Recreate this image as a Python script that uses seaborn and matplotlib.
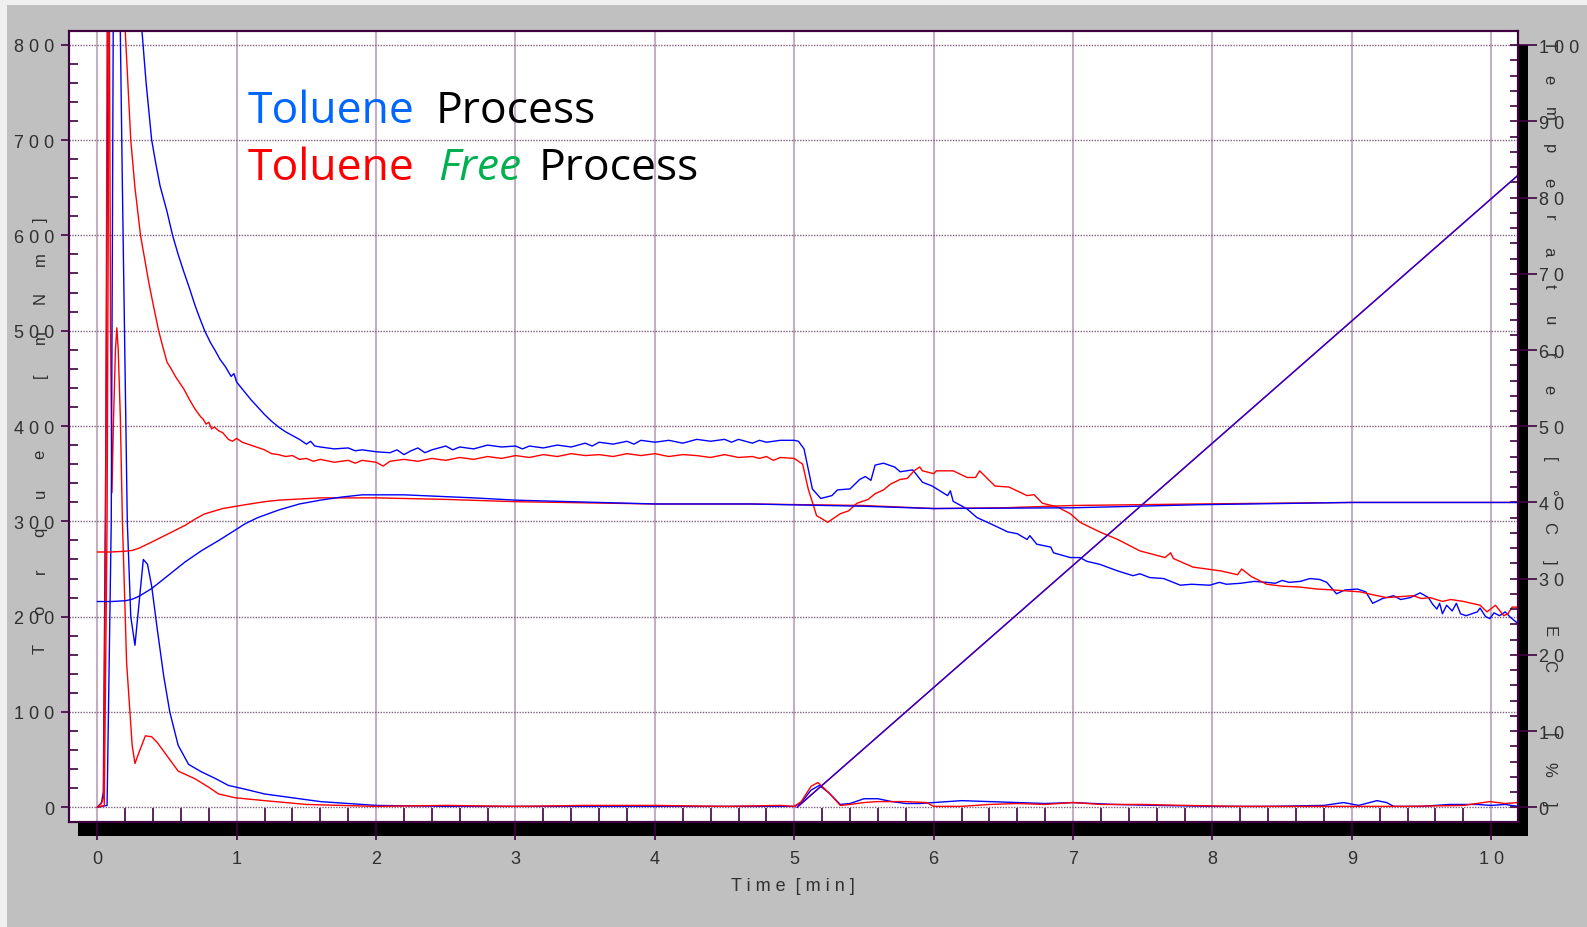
import matplotlib
matplotlib.use("Agg")
import matplotlib.pyplot as plt
import seaborn as sns
import pandas as pd
from matplotlib.patches import Rectangle
from matplotlib.ticker import MultipleLocator, FuncFormatter

# ---- data ----
# lower torque curve, toluene process (blue)
blue_torque_t = [0, 0.03, 0.043, 0.062, 0.08, 0.1, 0.13, 0.165, 0.18, 0.2,
                 0.215, 0.24, 0.27, 0.3, 0.33, 0.36, 0.39, 0.43, 0.476, 0.52,
                 0.58, 0.655, 0.75, 0.85, 0.94, 1.06, 1.2, 1.4, 1.6, 1.8,
                 2.0, 2.5, 3.0, 3.5, 4.0, 4.5, 5.0, 5.05, 5.12, 5.18,
                 5.25, 5.33, 5.4, 5.5, 5.6, 5.7, 5.8, 5.9, 6.0, 6.2,
                 6.4, 6.6, 6.8, 7.0, 7.3, 7.6, 8.0, 8.4, 8.8, 8.94,
                 9.05, 9.18, 9.25, 9.3, 9.5, 9.7, 9.9, 10.0, 10.1, 10.19]
blue_torque = [0, 5, 16, 400, 900, 1000, 950, 814, 650, 450,
               300, 200, 170, 215, 260, 255, 232, 187, 138, 100,
               65, 45, 37, 30, 23, 19, 14, 10, 6, 4,
               2, 1, 1, 1, 1, 1, 1, 5, 18, 23,
               15, 3, 4, 9, 9, 6, 4, 4, 5, 7,
               6, 5, 4, 5, 3, 2, 1, 1, 2, 5,
               2, 7, 5, 1, 1, 3, 3, 2, 3, 1]

# lower torque curve, toluene free process (red)
red_torque_t = [0, 0.03, 0.045, 0.06, 0.072, 0.085, 0.095, 0.105, 0.115, 0.13,
                0.14, 0.15, 0.165, 0.18, 0.21, 0.25, 0.27, 0.3, 0.345, 0.39,
                0.43, 0.49, 0.58, 0.7, 0.8, 0.87, 0.99, 1.06, 1.2, 1.5,
                2.0, 2.5, 3.0, 3.5, 4.0, 4.5, 4.9, 5.0, 5.05, 5.12,
                5.17, 5.25, 5.33, 5.4, 5.5, 5.6, 5.8, 5.95, 6.0, 6.2,
                6.4, 6.6, 6.8, 7.0, 7.2, 7.5, 7.8, 8.2, 8.6, 9.0,
                9.4, 9.8, 9.99, 10.1, 10.19]
red_torque = [0, 4, 10, 300, 900, 900, 500, 330, 400, 480,
              503, 480, 410, 300, 152, 65, 46, 58, 75, 74,
              68, 56, 38, 30, 21, 14, 10, 9, 7, 3,
              1, 2, 1, 2, 2, 1, 2, 1, 6, 22,
              26, 15, 2, 3, 5, 6, 6, 5, 1, 1,
              3, 4, 3, 5, 3, 3, 2, 1, 1, 1,
              1, 2, 6, 4, 5]

# upper curve, toluene process (blue)
blue_upper_t = [0, 0.07, 0.1, 0.115, 0.15, 0.25, 0.32, 0.35, 0.39, 0.42,
                0.45, 0.5, 0.54, 0.58, 0.62, 0.66, 0.7, 0.73, 0.77, 0.81,
                0.85, 0.88, 0.92, 0.96, 0.98, 1.0, 1.05,
                1.1, 1.15, 1.2, 1.25, 1.3, 1.35, 1.4, 1.45, 1.5, 1.53,
                1.56, 1.6, 1.7, 1.8, 1.85, 1.9, 2.0, 2.1, 2.15, 2.2,
                2.25, 2.3, 2.35, 2.4, 2.5, 2.55, 2.6, 2.7, 2.8, 2.9,
                3.0, 3.05, 3.1, 3.2, 3.3, 3.4, 3.5, 3.55, 3.6, 3.7,
                3.8, 3.85, 3.9, 4.0, 4.1, 4.2, 4.3, 4.4, 4.5, 4.55,
                4.6, 4.7, 4.75, 4.8, 4.9, 5.0, 5.03, 5.07, 5.13, 5.19,
                5.27, 5.31, 5.4, 5.47, 5.51, 5.55, 5.58, 5.64, 5.72, 5.76,
                5.85, 5.92, 5.99, 6.1, 6.12, 6.14, 6.24, 6.31, 6.43, 6.53,
                6.6, 6.67, 6.69, 6.74, 6.84, 6.86, 6.98, 7.05, 7.1, 7.19,
                7.32, 7.43, 7.48, 7.55, 7.65, 7.77, 7.85, 7.98, 8.05, 8.1,
                8.2, 8.3, 8.39, 8.45, 8.5, 8.55, 8.63, 8.7, 8.77, 8.82,
                8.89, 8.95, 9.04, 9.1, 9.15, 9.22, 9.3, 9.35, 9.42, 9.49,
                9.55, 9.58, 9.61, 9.63, 9.65, 9.68, 9.72, 9.75, 9.78, 9.82,
                9.9, 9.92, 9.96, 9.99, 10.02, 10.06, 10.1, 10.14, 10.19]
blue_upper = [0, 2, 300, 850, 950, 950, 815, 760, 700, 675,
              652, 625, 600, 580, 562, 545, 527, 515, 500, 488,
              478, 470, 462, 452, 455, 446, 437,
              428, 420, 412, 405, 399, 394, 390, 386, 381, 384,
              379, 378, 376, 377, 374, 375, 373, 372, 375, 370,
              374, 377, 372, 375, 379, 375, 378, 376, 380, 378,
              379, 376, 379, 377, 380, 378, 382, 379, 383, 381,
              384, 381, 385, 383, 385, 382, 386, 384, 386, 383,
              386, 382, 385, 383, 385, 385, 384, 376, 334, 324,
              327, 333, 334, 344, 347, 343, 359, 361, 357, 352,
              354, 341, 337, 327, 332, 321, 313, 304, 296, 289,
              287, 281, 285, 276, 273, 267, 262, 262, 258, 255,
              248, 243, 245, 241, 240, 233, 234, 233, 236, 234,
              235, 237, 236, 235, 238, 236, 237, 240, 239, 236,
              224, 228, 229, 226, 214, 219, 222, 218, 220, 225,
              220, 213, 208, 214, 203, 212, 206, 214, 203, 201,
              205, 209, 200, 198, 204, 201, 205, 199, 193]

# upper curve, toluene free process (red)
red_upper_t = [0, 0.05, 0.07, 0.085, 0.12, 0.18, 0.2, 0.24, 0.27, 0.31,
               0.34, 0.37, 0.4, 0.44, 0.47, 0.5, 0.53, 0.56, 0.62, 0.66,
               0.7, 0.74, 0.76, 0.78, 0.8,
               0.82, 0.84, 0.87, 0.9, 0.94, 0.97, 1.0, 1.04, 1.08, 1.12,
               1.2, 1.25, 1.3, 1.35, 1.4, 1.45, 1.5, 1.55, 1.6, 1.7,
               1.8, 1.85, 1.9, 2.0, 2.05, 2.1, 2.2, 2.3, 2.4, 2.5,
               2.6, 2.7, 2.8, 2.9, 3.0, 3.1, 3.2, 3.3, 3.4, 3.5,
               3.6, 3.7, 3.8, 3.9, 4.0, 4.1, 4.2, 4.3, 4.4, 4.5,
               4.6, 4.7, 4.75, 4.8, 4.85, 4.9, 5.0, 5.02, 5.06, 5.1,
               5.16, 5.24, 5.33, 5.39, 5.45, 5.53, 5.58, 5.64, 5.69, 5.76,
               5.81, 5.86, 5.9, 5.92, 6.0, 6.02, 6.14, 6.24, 6.3, 6.33,
               6.44, 6.54, 6.67, 6.72, 6.78, 6.89, 6.98, 7.05, 7.19, 7.32,
               7.48, 7.66, 7.7, 7.72, 7.86, 8.06, 8.18, 8.21, 8.28, 8.39,
               8.5, 8.63, 8.75, 8.87, 9.06, 9.15, 9.25, 9.35, 9.44, 9.5,
               9.56, 9.65, 9.71, 9.8, 9.92, 9.97, 10.03, 10.09, 10.12, 10.15,
               10.19]
red_upper = [0, 2, 300, 850, 1000, 900, 815, 700, 650, 600,
             575, 550, 528, 500, 483, 467, 460, 452, 439, 428,
             418, 410, 407, 402, 404,
             397, 399, 395, 393, 386, 384, 387, 383, 381, 379,
             375, 371, 370, 368, 369, 365, 366, 363, 365, 362,
             364, 361, 364, 362, 358, 363, 365, 363, 366, 364,
             367, 365, 368, 366, 369, 367, 370, 368, 371, 369,
             370, 368, 371, 369, 371, 368, 370, 369, 367, 370,
             367, 368, 366, 368, 364, 367, 366, 364, 360, 334,
             306, 299, 308, 311, 319, 323, 329, 333, 339, 344,
             345, 353, 357, 353, 350, 353, 353, 346, 346, 353,
             337, 336, 327, 328, 319, 315, 308, 299, 289, 281,
             269, 262, 267, 261, 252, 248, 244, 250, 242, 234,
             232, 231, 229, 228, 226, 223, 220, 221, 222, 219,
             220, 216, 218, 216, 212, 205, 212, 201, 203, 210,
             210]

# temperatures [°C], right axis
temp_blue_t = [0, 0.1, 0.2, 0.25, 0.3, 0.39, 0.5, 0.63, 0.75, 0.87,
               1.0, 1.06, 1.15, 1.3, 1.45, 1.6, 1.75, 1.9, 2.2, 2.7,
               3.0, 4.0, 4.68, 5.5, 6.0, 7.0, 7.9, 9.0, 10.19]
temp_blue = [27.0, 27.0, 27.1, 27.3, 27.7, 28.7, 30.3, 32.2, 33.7, 35.0,
             36.5, 37.2, 38.0, 39.0, 39.8, 40.3, 40.7, 41.0, 41.0, 40.6,
             40.3, 39.8, 39.8, 39.5, 39.2, 39.3, 39.7, 40.0, 40.0]
temp_red_t = [0, 0.1, 0.2, 0.25, 0.3, 0.39, 0.5, 0.63, 0.7, 0.77,
              0.9, 1.06, 1.2, 1.3, 1.6, 2.0, 2.5, 3.0, 4.0, 4.68,
              5.5, 6.0, 6.5, 7.0, 7.9, 9.0, 10.19]
temp_red = [33.5, 33.5, 33.6, 33.7, 34.0, 34.8, 35.8, 37.0, 37.8, 38.5,
            39.2, 39.7, 40.1, 40.3, 40.6, 40.6, 40.4, 40.1, 39.8, 39.8,
            39.6, 39.2, 39.3, 39.6, 39.8, 40.0, 40.0]

# straight ramp, right axis
ramp_t = [5.02, 10.19]
ramp_v = [0, 82.9]

x_ticks = list(range(0, 11))
W, H = 1587, 928


def spaced(v, pos=None):
    return " ".join(f"{v:g}")


sns.set_style("white")
plt.rcParams['font.family'] = ['Liberation Sans Narrow', 'Liberation Sans', 'DejaVu Sans']

fig = plt.figure(figsize=(W / 100, H / 100), dpi=100, facecolor='#c0c0c0')
fig.patches.append(Rectangle((0, 0), 7 / W, 1, transform=fig.transFigure,
                             facecolor='#f0f0f0', edgecolor='none', zorder=-2))
fig.patches.append(Rectangle((0, 1 - 6 / H), 1, 6 / H, transform=fig.transFigure,
                             facecolor='#f0f0f0', edgecolor='none', zorder=-2))
# drop shadow of the plot frame
fig.patches.append(Rectangle((78 / W, 1 - 837 / H), (1528 - 78) / W, (837 - 46) / H,
                             transform=fig.transFigure, facecolor='black',
                             edgecolor='none', zorder=-1))

ax = fig.add_axes([69.3 / W, 1 - 823 / H, (1517.7 - 69.3) / W, (823 - 31.7) / H])
ax.set_facecolor('white')
ax2 = ax.twinx()

frame = '#400040'
lines = [
    (ax, blue_torque_t, blue_torque, '#0000ff'),
    (ax, red_torque_t, red_torque, '#ff0000'),
    (ax, blue_upper_t, blue_upper, '#0000ff'),
    (ax, red_upper_t, red_upper, '#ff0000'),
    (ax2, temp_red_t, temp_red, '#ff0000'),
    (ax2, temp_blue_t, temp_blue, '#0000ff'),
    (ax2, ramp_t, ramp_v, '#ff0000'),
    (ax2, ramp_t, ramp_v, '#2000e0'),
]
for a, t, v, c in lines:
    df = pd.DataFrame({'t': t, 'v': v})
    sns.lineplot(data=df, x='t', y='v', ax=a, color=c, linewidth=1.0,
                 estimator=None, sort=False)

ax.set_xlim(-0.201, 10.19)
ax.set_ylim(-15.4, 814.7)
ax2.set_ylim(-1.93, 101.9)
ax.set_xlabel('')
ax.set_ylabel('')
ax2.set_ylabel('')

# grid
ax.set_xticks(x_ticks)
ax.yaxis.set_major_locator(MultipleLocator(100))
ax.xaxis.grid(True, color='#c4b0c4', linewidth=1.5, linestyle='-')
ax.yaxis.grid(True, color='#806080', linewidth=1.0, linestyle=(0, (1, 1)))
ax.set_axisbelow(True)

# ticks
ax.xaxis.set_minor_locator(MultipleLocator(0.2))
ax.yaxis.set_minor_locator(MultipleLocator(20))
ax.tick_params(axis='x', which='major', direction='out', length=13, width=1.2,
               color=frame, pad=7, labelsize=13, labelcolor='#303030')
ax.tick_params(axis='x', which='minor', direction='in', length=10, width=1.2, color=frame)
ax.tick_params(axis='y', which='major', direction='out', length=6, width=1.2,
               color=frame, pad=5, labelsize=13, labelcolor='#303030')
ax.tick_params(axis='y', which='minor', direction='in', length=6.5, width=1.2, color=frame)
ax.tick_params(left=True, bottom=True, which='both')
ax.xaxis.set_major_formatter(FuncFormatter(spaced))
ax.yaxis.set_major_formatter(FuncFormatter(spaced))

ax2.yaxis.set_major_locator(MultipleLocator(10))
ax2.yaxis.set_minor_locator(MultipleLocator(2))
ax2.yaxis.remove_overlapping_locs = False
ax2.tick_params(axis='y', which='major', direction='out', length=14, width=1.2,
                color=frame, pad=1, labelsize=13, labelcolor='#303030')
ax2.tick_params(axis='y', which='minor', direction='in', length=6, width=1.2, color=frame)
ax2.yaxis.set_major_formatter(FuncFormatter(spaced))

for a in (ax, ax2):
    for s in a.spines.values():
        s.set_color(frame)
        s.set_linewidth(1.5)

# axis titles, letter by letter as in the original
left_title = "Torque [mNm]"
for i, ch in enumerate(left_title):
    fig.text(40 / W, 1 - (649 - i * 39) / H, ch, rotation=90, ha='center',
             va='center', fontsize=12, color='#303030')
right_title = "Temperature [°C] EC [%]"
for i, ch in enumerate(right_title):
    fig.text(1549 / W, 1 - (45 + i * 34.5) / H, ch, rotation=-90, ha='center',
             va='center', fontsize=12, color='#303030')
fig.text(793 / W, 1 - 887 / H, "T i m e  [ m i n ]", ha='center', va='center',
         fontsize=13, color='#303030')

# coloured legend text
big = dict(fontsize=32, family='Open Sans')
t1 = fig.text(248 / W, 1 - 123 / H, "Toluene", color='#0066ff', va='baseline', **big)
ax.annotate("Process", xy=(1, 0), xycoords=t1, xytext=(15, 0),
            textcoords='offset points', va='bottom', color='black', **big)
t2 = fig.text(248 / W, 1 - 180 / H, "Toluene", color='#ff0000', va='baseline', **big)
t3 = ax.annotate("Free", xy=(1, 0), xycoords=t2, xytext=(17, 0),
                 textcoords='offset points', va='bottom', color='#00b050',
                 style='italic', **big)
ax.annotate("Process", xy=(1, 0), xycoords=t3, xytext=(12, 0),
            textcoords='offset points', va='bottom', color='black', **big)

fig.savefig('out.png', dpi=100, facecolor=fig.get_facecolor())
